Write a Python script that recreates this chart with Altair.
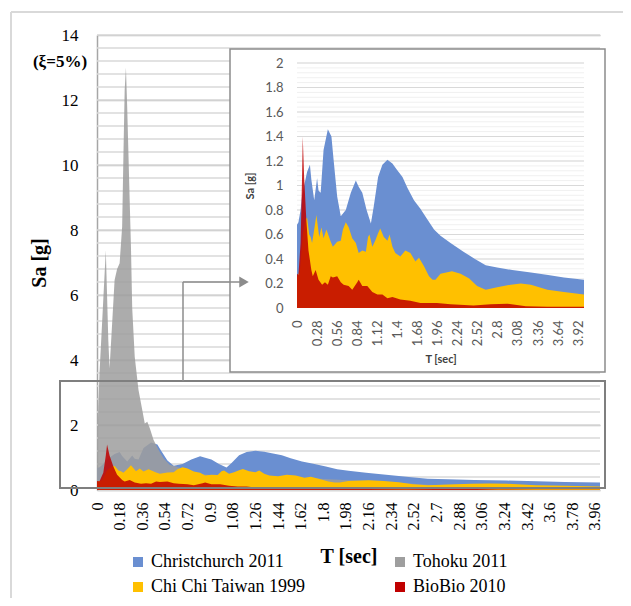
import altair as alt
import pandas as pd

# legend is laid out column by column, so this order gives rows
# "Christchurch 2011 | Tohoku 2011" and "Chi Chi Taiwan 1999 | BioBio 2010"
SERIES = ["Christchurch 2011", "Chi Chi Taiwan 1999", "Tohoku 2011", "BioBio 2010"]
COLORS = ["#6A8FD1", "#FFC000", "#9E9E9E", "#C00000"]

# Christchurch 2011
cc_T = [0.00, 0.02, 0.05, 0.07, 0.10, 0.14, 0.18, 0.20, 0.24, 0.28, 0.30, 0.33, 0.37, 0.43, 0.48,
        0.51, 0.56, 0.61, 0.68, 0.75, 0.82, 0.86, 0.91, 0.97, 1.03, 1.07, 1.13, 1.19, 1.26, 1.33,
        1.39, 1.47, 1.54, 1.63, 1.72, 1.82, 1.91, 2.00, 2.14, 2.32, 2.48, 2.63, 2.79, 3.00, 3.26,
        3.50, 3.72, 4.00]
cc_Sa = [0.68, 0.70, 0.80, 0.91, 1.00, 1.11, 1.17, 1.05, 0.88, 1.06, 0.96, 0.94, 1.29, 1.46, 1.40,
         1.21, 0.91, 0.75, 0.80, 0.94, 1.04, 0.99, 0.94, 0.80, 0.69, 0.83, 1.07, 1.17, 1.21, 1.18,
         1.13, 1.07, 0.98, 0.88, 0.81, 0.72, 0.64, 0.59, 0.53, 0.46, 0.40, 0.35, 0.33, 0.31, 0.29,
         0.27, 0.25, 0.23]

# Tohoku 2011
th_T = [0.00, 0.01, 0.02, 0.04, 0.07, 0.09, 0.10, 0.12, 0.14, 0.16, 0.18, 0.20, 0.21, 0.22, 0.23,
        0.24, 0.26, 0.27, 0.28, 0.30, 0.33, 0.36, 0.38, 0.40, 0.42, 0.45, 0.49, 0.53, 0.58, 0.63,
        0.70, 0.80, 0.90, 1.00, 1.10, 1.30, 1.50, 1.70, 1.85, 2.00, 2.20, 2.40, 2.60, 2.80, 3.00,
        3.40, 3.80, 4.00]
th_Sa = [0.62, 2.56, 3.60, 5.10, 7.38, 4.60, 3.75, 5.10, 6.46, 6.80, 6.98, 8.10, 10.26, 12.30, 13.00,
         11.80, 8.90, 7.50, 5.60, 4.10, 3.08, 2.46, 2.05, 2.10, 1.90, 1.54, 1.23, 0.97, 0.77, 0.72,
         0.62, 0.50, 0.46, 0.44, 0.42, 0.40, 0.38, 0.36, 0.33, 0.30, 0.28, 0.22, 0.17, 0.14, 0.12,
         0.09, 0.07, 0.06]

# Chi Chi Taiwan 1999
tw_T = [0.00, 0.04, 0.08, 0.12, 0.14, 0.17, 0.19, 0.21, 0.24, 0.27, 0.31, 0.34, 0.37, 0.41, 0.47,
        0.50, 0.56, 0.61, 0.64, 0.68, 0.72, 0.77, 0.82, 0.86, 0.91, 0.96, 0.99, 1.01, 1.05, 1.09,
        1.13, 1.16, 1.21, 1.26, 1.29, 1.33, 1.37, 1.44, 1.51, 1.58, 1.65, 1.70, 1.77, 1.84, 1.89,
        1.93, 2.00, 2.16, 2.28, 2.40, 2.51, 2.63, 2.79, 2.98, 3.12, 3.26, 3.49, 3.72, 4.00]
tw_Sa = [0.25, 0.30, 0.60, 0.72, 0.74, 0.60, 0.58, 0.53, 0.64, 0.76, 0.58, 0.66, 0.57, 0.64, 0.54,
         0.50, 0.54, 0.55, 0.64, 0.70, 0.66, 0.57, 0.53, 0.45, 0.47, 0.46, 0.58, 0.60, 0.50, 0.55,
         0.61, 0.65, 0.58, 0.55, 0.60, 0.50, 0.45, 0.42, 0.47, 0.45, 0.38, 0.41, 0.34, 0.26, 0.23,
         0.23, 0.28, 0.30, 0.28, 0.24, 0.18, 0.15, 0.17, 0.19, 0.20, 0.19, 0.15, 0.13, 0.11]

# BioBio 2010
bb_T = [0.00, 0.02, 0.05, 0.07, 0.08, 0.10, 0.13, 0.16, 0.20, 0.22, 0.26, 0.30, 0.35, 0.39, 0.43,
        0.47, 0.50, 0.56, 0.61, 0.65, 0.72, 0.77, 0.84, 0.86, 0.91, 0.98, 1.05, 1.12, 1.19, 1.26,
        1.33, 1.44, 1.58, 1.72, 1.95, 2.14, 2.46, 2.70, 2.93, 3.19, 3.49, 4.00]
bb_Sa = [0.28, 0.27, 0.53, 1.06, 1.40, 1.06, 0.72, 0.47, 0.31, 0.26, 0.31, 0.23, 0.19, 0.21, 0.19,
         0.26, 0.25, 0.26, 0.21, 0.19, 0.18, 0.15, 0.21, 0.23, 0.18, 0.18, 0.13, 0.11, 0.11, 0.08,
         0.09, 0.07, 0.06, 0.04, 0.04, 0.03, 0.02, 0.03, 0.035, 0.015, 0.01, 0.01]

MAIN_XTICKS = [0, 0.18, 0.36, 0.54, 0.72, 0.9, 1.08, 1.26, 1.44, 1.62, 1.8, 1.98, 2.16, 2.34,
               2.52, 2.7, 2.88, 3.06, 3.24, 3.42, 3.6, 3.78, 3.96]
MAIN_YTICKS = [0, 2, 4, 6, 8, 10, 12, 14]
INSET_XTICKS = [0, 0.28, 0.56, 0.84, 1.12, 1.4, 1.68, 1.96, 2.24, 2.52, 2.8, 3.08, 3.36, 3.64, 3.92]
INSET_YTICKS = [0, 0.2, 0.4, 0.6, 0.8, 1, 1.2, 1.4, 1.6, 1.8, 2]


def frame(T, Sa, name):
    return pd.DataFrame({"T": T, "Sa": Sa, "series": name})


df_cc = frame(cc_T, cc_Sa, "Christchurch 2011")
df_th = frame(th_T, th_Sa, "Tohoku 2011")
df_tw = frame(tw_T, tw_Sa, "Chi Chi Taiwan 1999")
df_bb = frame(bb_T, bb_Sa, "BioBio 2010")

C_CC, C_TW, C_TH, C_BB = COLORS

W, H = 503, 455
SERIF = "'Liberation Serif', 'Times New Roman', 'DejaVu Serif', serif"
SANS = "Lato, 'Open Sans', sans-serif"

color_scale = alt.Scale(domain=SERIES, range=COLORS)
legend = alt.Legend(
    orient="none", legendX=32, legendY=518, columns=2, title=None,
    symbolType="square", symbolSize=100, symbolStrokeWidth=0,
    labelFont=SERIF, labelFontSize=18, labelColor="black", labelOffset=4,
    columnPadding=85, rowPadding=7, padding=0, labelLimit=300,
)

# ---------------- main chart ----------------
mx_scale = alt.Scale(domain=[0, 4], nice=False, zero=False)
my_scale = alt.Scale(domain=[0, 14], nice=False)
mx_axis = alt.Axis(
    values=MAIN_XTICKS, format=".2~f", labelAngle=-90, labelFont=SERIF, labelFontSize=16,
    labelColor="black", labelPadding=12, ticks=False, grid=False, domain=True,
    domainColor="#D9D9D9", domainWidth=1.5, labelOverlap=False, labelFlush=False,
    title="T [sec]", titleFont=SERIF, titleFontSize=20, titleFontWeight="bold",
    titleColor="black", titlePadding=16,
)
my_axis = alt.Axis(
    values=MAIN_YTICKS, labelFont=SERIF, labelFontSize=17, labelColor="black",
    labelPadding=19, ticks=False, grid=True, gridColor="#BFBFBF", gridWidth=1.5,
    domain=True, domainColor="#A6A6A6", domainWidth=1.5,
    title="Sa [g]", titleFont=SERIF, titleFontSize=20, titleFontWeight="bold",
    titleColor="black", titlePadding=12,
)

main_minor = pd.DataFrame({"g": [round(i * 0.4, 1) for i in range(1, 36)], "x0": 0.0, "x1": 4.0})
grid_main = alt.Chart(main_minor).mark_rule(color="#D9D9D9", strokeWidth=1.5).encode(
    x=alt.X("x0:Q", scale=mx_scale, axis=mx_axis),
    x2="x1:Q",
    y=alt.Y("g:Q", scale=my_scale, axis=my_axis),
)


def main_area(df, opacity):
    return alt.Chart(df).mark_area(opacity=opacity).encode(
        x=alt.X("T:Q", scale=mx_scale, axis=mx_axis),
        y=alt.Y("Sa:Q", stack=None, scale=my_scale, axis=my_axis),
        color=alt.Color("series:N", scale=color_scale, legend=legend),
    )


main = alt.layer(
    grid_main,
    main_area(df_cc, 1.0),
    main_area(df_th, 0.85),
    main_area(df_tw, 1.0),
    main_area(df_bb, 0.85),
)

# ---------------- inset chart ----------------
ix_scale = alt.Scale(domain=[0, 4], nice=False, zero=False, range=[200, 487])
iy_scale = alt.Scale(domain=[0, 2], nice=False, range=[273, 28])
ix_axis = alt.Axis(
    orient="bottom", offset=-182, values=INSET_XTICKS, format=".2~f", labelAngle=-90,
    labelFont=SANS, labelFontSize=13, labelColor="#595959", labelPadding=12,
    ticks=False, grid=False, domain=False, labelOverlap=False, labelFlush=False,
    title="T [sec]", titleFont=SANS, titleFontSize=11, titleFontWeight="bold",
    titleColor="#404040", titlePadding=8, zindex=3,
)
iy_axis = alt.Axis(
    orient="left", offset=-200, values=INSET_YTICKS, format=".1~f",
    labelFont=SANS, labelFontSize=13, labelColor="#595959", labelPadding=14,
    ticks=False, grid=False, domain=False,
    title="Sa [g]", titleFont=SANS, titleFontSize=11, titleFontWeight="bold",
    titleColor="#404040", titlePadding=9, zindex=3,
)

one = pd.DataFrame({"k": [0]})
inset_box = alt.Chart(one).mark_rect(fill="white", stroke="#8C8C8C", strokeWidth=1.5).encode(
    x=alt.value(133), x2=alt.value(508), y=alt.value(14), y2=alt.value(337)
)
inset_minor = pd.DataFrame({"g": [round(i * 0.04, 2) for i in range(1, 51)], "x0": 0.0, "x1": 4.0})
inset_major = pd.DataFrame({"g": INSET_YTICKS[1:], "x0": 0.0, "x1": 4.0})
grid_inset_minor = alt.Chart(inset_minor).mark_rule(color="#F0F0F0", strokeWidth=1).encode(
    x=alt.X("x0:Q", scale=ix_scale, axis=ix_axis), x2="x1:Q",
    y=alt.Y("g:Q", scale=iy_scale, axis=iy_axis),
)
grid_inset_major = alt.Chart(inset_major).mark_rule(color="#D9D9D9", strokeWidth=1).encode(
    x=alt.X("x0:Q", scale=ix_scale, axis=ix_axis), x2="x1:Q",
    y=alt.Y("g:Q", scale=iy_scale, axis=iy_axis),
)


def inset_area(df, color, opacity):
    return alt.Chart(df).mark_area(color=color, opacity=opacity).encode(
        x=alt.X("T:Q", scale=ix_scale, axis=ix_axis),
        y=alt.Y("Sa:Q", stack=None, scale=iy_scale, axis=iy_axis),
    )


inset = alt.layer(
    inset_box,
    grid_inset_minor,
    grid_inset_major,
    inset_area(df_cc, C_CC, 1.0),
    inset_area(df_tw, C_TW, 1.0),
    inset_area(df_bb, C_BB, 0.85),
)

# ---------------- decorations ----------------
zoom_rect = alt.Chart(one).mark_rect(fill=None, stroke="#7F7F7F", strokeWidth=2).encode(
    x=alt.value(-37), x2=alt.value(508), y=alt.value(346), y2=alt.value(453)
)
arrow_v = alt.Chart(one).mark_rule(color="#8C8C8C", strokeWidth=1.5).encode(
    x=alt.value(86), y=alt.value(247), y2=alt.value(346)
)
arrow_h = alt.Chart(one).mark_rule(color="#8C8C8C", strokeWidth=1.5).encode(
    x=alt.value(86), x2=alt.value(143), y=alt.value(247)
)
arrow_head = alt.Chart(one).mark_point(
    shape="triangle-right", filled=True, color="#8C8C8C", size=120, opacity=1
).encode(x=alt.value(147), y=alt.value(247))
damping = alt.Chart(one).mark_text(
    text="(ξ=5%)", font=SERIF, fontSize=17, fontWeight="bold", color="black",
    align="center", baseline="middle"
).encode(x=alt.value(-37), y=alt.value(27))
frame_left = alt.Chart(one).mark_rule(color="#D9D9D9", strokeWidth=2).encode(
    x=alt.value(-86), y=alt.value(-23), y2=alt.value(571)
)
frame_top = alt.Chart(one).mark_rule(color="#D9D9D9", strokeWidth=2).encode(
    x=alt.value(-86), x2=alt.value(530), y=alt.value(-23)
)

decor = alt.layer(zoom_rect, arrow_v, arrow_h, arrow_head, damping, frame_left, frame_top)

chart = alt.layer(main, inset, decor).resolve_scale(
    x="independent", y="independent"
).properties(
    width=W, height=H,
    padding={"left": 89, "top": 27, "right": 23, "bottom": 108},
    autosize=alt.AutoSizeParams(type="none"),
    background="white",
).configure_view(stroke=None).configure_axis(
    labelFont=SERIF, titleFont=SERIF
).configure_legend(
    labelFont=SERIF, labelFontSize=18, labelColor="black"
)

chart.save("out.html", embed_options={"renderer": "svg", "actions": False})
